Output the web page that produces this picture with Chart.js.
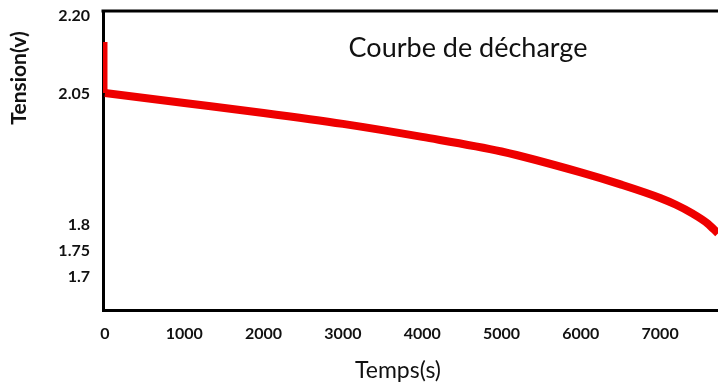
<!DOCTYPE html>
<html>
<head>
<meta charset="utf-8">
<script src="https://cdn.jsdelivr.net/npm/chart.js@4"></script>
<style>
  html, body { margin: 0; padding: 0; background: #fff; }
  #wrap { width: 718px; height: 385px; }
</style>
</head>
<body>
<div id="wrap"><canvas id="dischargeChart"></canvas></div>
<script>
// discharge curve
const spikeTime = [0, 0];
const spikeV = [2.15, 2.052];
const timeS = [0, 1000, 2000, 3000, 4000, 5000, 6000, 6500, 7000, 7200, 7400, 7600, 7730];
const tensionV = [2.052, 2.033, 2.014, 1.993, 1.968, 1.940, 1.900, 1.877, 1.851, 1.838, 1.822, 1.802, 1.783];

const xTicks = [0, 1000, 2000, 3000, 4000, 5000, 6000, 7000];
const yTicks = [1.7, 1.75, 1.8, 2.05, 2.20];
const yTickLabels = ['1.7', '1.75', '1.8', '2.05', '2.20'];

const chartTitle = 'Courbe de décharge';
const xTitle = 'Temps(s)';
const yTitle = 'Tension(v)';

// frame top line + texts placed where the original has them
const overlay = {
    id: 'overlay',
    afterDraw(chart) {
        const ctx = chart.ctx;
        const area = chart.chartArea;
        ctx.save();
        ctx.strokeStyle = '#000';
        ctx.lineWidth = 3;
        ctx.beginPath();
        ctx.moveTo(area.left - 1.5, area.top);
        ctx.lineTo(chart.width, area.top);
        ctx.stroke();

        ctx.fillStyle = '#111';
        ctx.textAlign = 'center';
        ctx.textBaseline = 'middle';
        ctx.font = '27px Lato';
        ctx.fillText(chartTitle, 468, 48);

        ctx.font = '23px Lato';
        ctx.fillText(xTitle, 398, 371);

        ctx.translate(19, 78);
        ctx.rotate(-Math.PI / 2);
        ctx.font = 'bold 21px Lato';
        ctx.fillText(yTitle, 0, 0);
        ctx.restore();
    }
};

const lineStyle = {
    borderColor: '#ee0000',
    borderWidth: 8,
    pointRadius: 0,
    fill: false
};

const ctx = document.getElementById('dischargeChart').getContext('2d');
new Chart(ctx, {
    type: 'line',
    data: {
        datasets: [
            { ...lineStyle, data: spikeTime.map((t, i) => ({ x: t, y: spikeV[i] })), borderWidth: 5 },
            { ...lineStyle, data: timeS.map((t, i) => ({ x: t, y: tensionV[i] })), cubicInterpolationMode: 'monotone' }
        ]
    },
    options: {
        responsive: true,
        maintainAspectRatio: false,
        animation: false,
        layout: { padding: { top: 11, right: 0, left: 0, bottom: 0 } },
        plugins: {
            legend: { display: false },
            tooltip: { enabled: false }
        },
        scales: {
            x: {
                type: 'linear',
                min: -25,
                max: 7730,
                afterFit: (scale) => { scale.height = 75; scale.paddingLeft = 0; scale.paddingRight = 0; },
                afterBuildTicks: (scale) => { scale.ticks = xTicks.map(v => ({ value: v })); },
                grid: { drawOnChartArea: false, drawTicks: false },
                border: { color: '#000', width: 3 },
                ticks: {
                    padding: 14,
                    color: '#111',
                    font: { family: 'Lato', size: 16, weight: 'bold' },
                    maxRotation: 0,
                    callback: (v) => String(v)
                }
            },
            y: {
                type: 'linear',
                min: 1.6363,
                max: 2.2093,
                afterFit: (scale) => { scale.width = 103; scale.paddingTop = 0; scale.paddingBottom = 0; },
                afterBuildTicks: (scale) => { scale.ticks = yTicks.map(v => ({ value: v })); },
                grid: { drawOnChartArea: false, drawTicks: false },
                border: { color: '#000', width: 3 },
                ticks: {
                    padding: 13,
                    color: '#111',
                    font: { family: 'Lato', size: 16, weight: 'bold' },
                    callback: (v) => yTickLabels[yTicks.indexOf(v)]
                }
            }
        }
    },
    plugins: [overlay]
});
</script>
</body>
</html>
